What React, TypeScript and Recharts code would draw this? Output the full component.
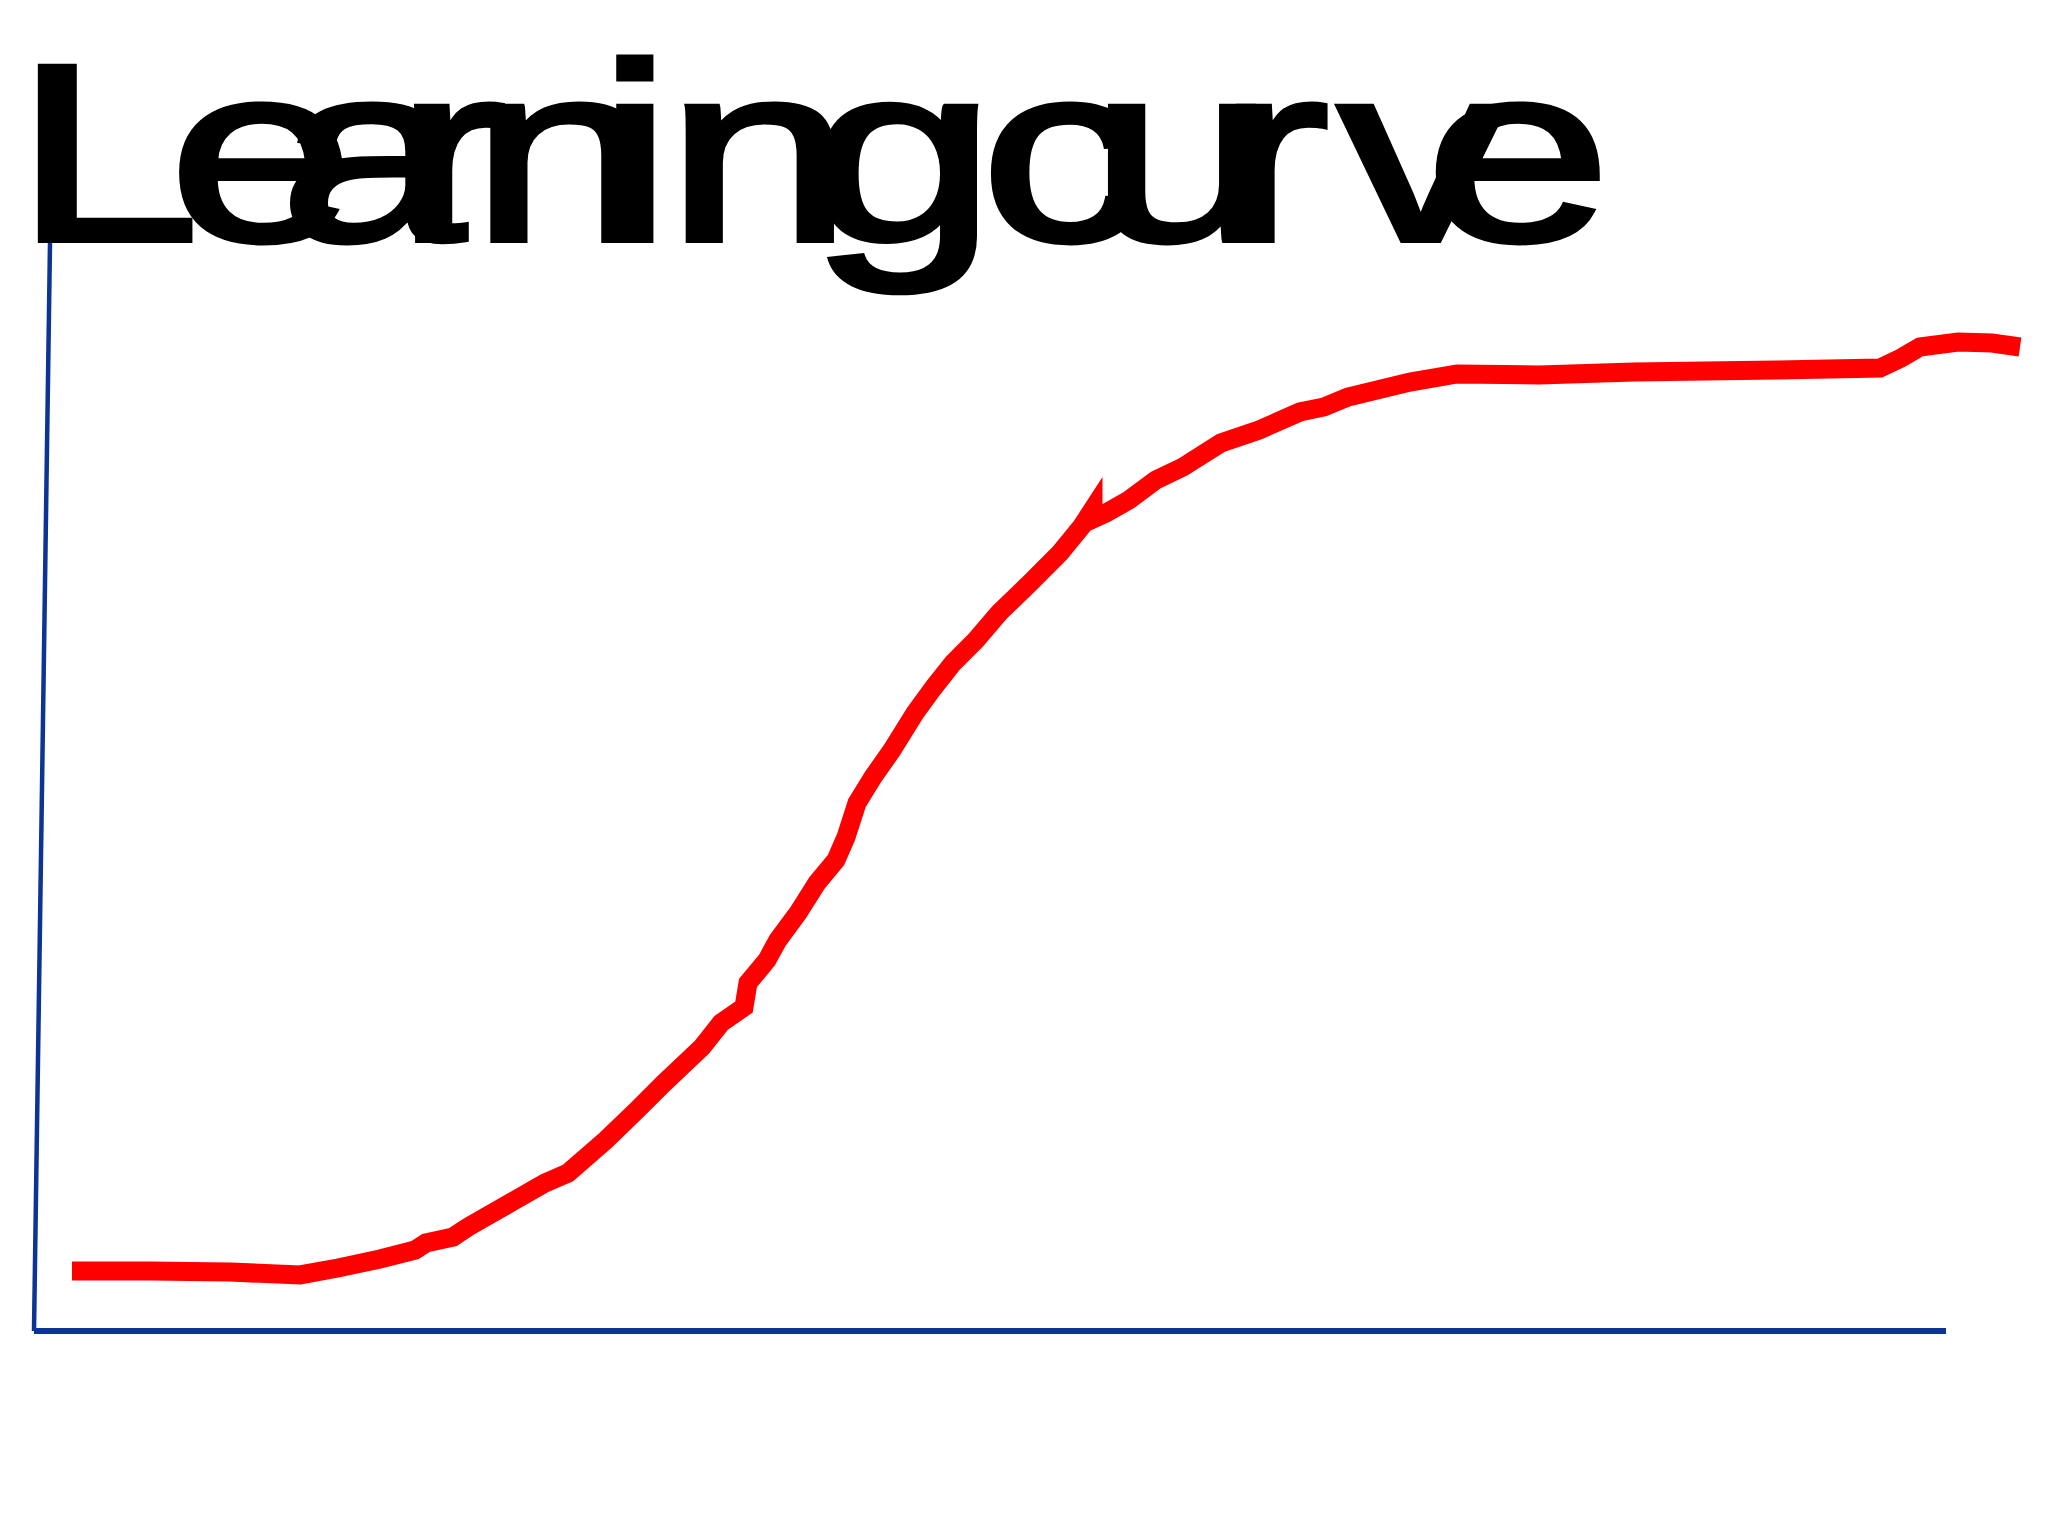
import React from "react"
import { LineChart, Line, XAxis, YAxis, ReferenceLine } from "recharts"

// title, drawn squeezed: glyphs overlap like in the source
const TITLE = "Learning curve"
const TITLE_GLYPH_X = [11, 128, 212, 300, 357, 453, 505, 614, 743, 826, 923, 1014, 1080]

// amount of practice (x) vs. skill (y)
const practice = [
  1.9, 5.8, 9.8, 13.3, 15.2, 17.3, 19.05, 19.6, 20.95, 21.7, 23.8, 25.55, 26.7, 28.6, 30.15, 31.5,
  33.4, 34.35, 35.5, 35.7, 36.65, 37.2, 38.2, 39.15, 40.1, 40.6, 41.15, 41.95, 42.9, 44.05, 45.0,
  45.95, 47.1, 48.25, 49.8, 51.3, 52.4, 52.95, 52.95, 53.6, 54.75, 56.1, 57.45, 59.35, 61.25, 63.3,
  64.5, 65.7, 68.8, 71.15, 75.25, 80.0, 87.15, 92.3, 93.35, 94.3, 96.2, 97.9, 99.3,
]
const skill = [
  5.51, 5.51, 5.42, 5.15, 5.79, 6.62, 7.44, 8.09, 8.64, 9.56, 11.76, 13.6, 14.52, 17.56, 20.31, 22.79,
  26.1, 28.31, 29.78, 31.99, 34.1, 35.94, 38.42, 41.18, 43.29, 45.4, 48.53, 50.92, 53.4, 56.8, 59.19,
  61.4, 63.51, 65.99, 68.75, 71.51, 73.99, 75.55, 74.63, 75.18, 76.38, 78.22, 79.41, 81.62, 82.81, 84.47,
  84.93, 85.85, 87.22, 87.96, 87.87, 88.14, 88.33, 88.51, 89.43, 90.44, 90.9, 90.81, 90.44,
]

const X_AXIS_END = 95.6
const Y_AXIS_TOP_X = 0.8

const data = practice.map((x, i) => ({ x, y: skill[i] }))

const AXIS_COLOR = "#0b3494"

function Title() {
  const glyphs = TITLE.replace(" ", "").split("")
  return (
    <svg width={2048} height={400} style={{ position: "absolute", left: 0, top: 0 }}>
      <g transform="scale(1.32,1)">
        <text
          y={240}
          fontFamily="'Liberation Sans', Arial, sans-serif"
          fontSize={252}
          fill="#000"
          stroke="#000"
          strokeWidth={6}
          strokeLinejoin="miter"
        >
          {glyphs.map((ch, i) => (
            <tspan key={i} x={TITLE_GLYPH_X[i]}>
              {ch}
            </tspan>
          ))}
        </text>
      </g>
    </svg>
  )
}

export default function App() {
  return (
    <div style={{ position: "absolute", left: 0, top: 0, width: 2048, height: 1536, background: "#fff" }}>
      <LineChart width={2048} height={1536} data={data} margin={{ top: 243, right: 14, bottom: 205, left: 34 }}>
        <XAxis dataKey="x" type="number" domain={[0, 100]} hide />
        <YAxis type="number" domain={[0, 100]} hide />
        <ReferenceLine
          segment={[
            { x: 0, y: 0 },
            { x: Y_AXIS_TOP_X, y: 100 },
          ]}
          stroke={AXIS_COLOR}
          strokeWidth={4.5}
        />
        <ReferenceLine
          segment={[
            { x: 0, y: 0 },
            { x: X_AXIS_END, y: 0 },
          ]}
          stroke={AXIS_COLOR}
          strokeWidth={6}
        />
        <Line dataKey="y" type="linear" stroke="#ff0000" strokeWidth={19} dot={false} isAnimationActive={false} />
      </LineChart>
      <Title />
    </div>
  )
}
